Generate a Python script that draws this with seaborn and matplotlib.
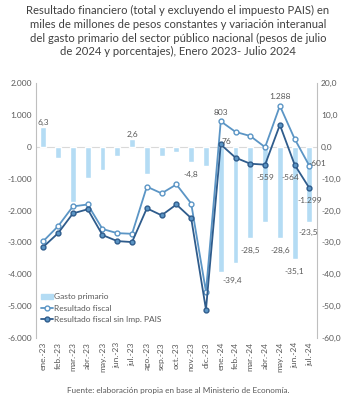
import numpy as np
import pandas as pd
import seaborn as sns
import matplotlib.pyplot as plt
from matplotlib.lines import Line2D
from matplotlib.patches import Patch
from matplotlib.ticker import FuncFormatter

# DATA
months = ["ene.-23", "feb.-23", "mar.-23", "abr.-23", "may.-23", "jun.-23", "jul.-23",
          "ago.-23", "sep.-23", "oct.-23", "nov.-23", "dic.-23", "ene.-24", "feb.-24",
          "mar.-24", "abr.-24", "may.-24", "jun.-24", "jul.-24"]
gasto_primario = [6.3, -3.4, -17.4, -9.7, -7.2, -2.8, 2.6, -8.4, -2.8, -1.6, -4.8, -6.0,
                  -39.4, -36.4, -28.5, -23.7, -28.6, -35.1, -23.5]
resultado_fiscal = [-2960, -2490, -1870, -1810, -2580, -2710, -2730, -1250, -1460, -1180,
                    -1780, -4550, 803, 470, 340, -10, 1288, 250, -601]
resultado_sin_pais = [-3140, -2710, -2090, -1960, -2770, -2960, -2990, -1930, -2150, -1810,
                      -2240, -5110, 76, -340, -530, -559, 690, -564, -1299]

# labels shown on the chart: index -> offset in points
bar_labels = {0: (0, 3), 6: (0, 3), 10: (0, -9), 12: (8, -6), 14: (0, -9), 16: (0, -9),
              17: (0, -9), 18: (-1, -8)}
rf_labels = {12: (0, 4), 16: (0, 4), 18: (6, -1)}
sp_labels = {12: (4, 2), 15: (0, -9), 17: (-3, -9), 18: (0, -9)}

BAR_C = "#b4dcf4"
LIGHT_C = "#5b95c5"
DARK_C = "#2f5c8c"
TXT_C = "#595959"

sns.set_theme(style="white")
plt.rcParams["font.family"] = ["Lato", "DejaVu Sans"]

df = pd.DataFrame({"mes": months, "idx": np.arange(len(months)), "gasto": gasto_primario,
                   "rf": resultado_fiscal, "sp": resultado_sin_pais})

fig = plt.figure(figsize=(3.56, 3.98), dpi=100)
ax = fig.add_axes([0.101, 0.151, 0.789, 0.640])

# bars on the primary axis (right scale), lines on twin (left scale) so they sit on top
sns.barplot(data=df, x="idx", y="gasto", color=BAR_C, width=0.4, ax=ax, saturation=1)
ax2 = ax.twinx()
sns.lineplot(data=df, x="idx", y="rf", color=LIGHT_C, lw=1.3, marker="o", ms=3.5,
             mfc="white", mec=LIGHT_C, mew=1, ax=ax2)
sns.lineplot(data=df, x="idx", y="sp", color=DARK_C, lw=1.3, marker="o", ms=3.5,
             mfc=LIGHT_C, mec=DARK_C, mew=1, ax=ax2)

ax.set_ylim(-60, 20)
ax2.set_ylim(-6000, 2000)
ax.set_xlim(-0.5, 18.5)
ax.yaxis.tick_right()
ax.yaxis.set_label_position("right")
ax2.yaxis.tick_left()
ax2.yaxis.set_label_position("left")
ax.set_yticks(np.arange(-60, 21, 10))
ax2.set_yticks(np.arange(-6000, 2001, 1000))
ax.yaxis.set_major_formatter(FuncFormatter(lambda v, p: f"{v:.1f}".replace(".", ",")))
ax2.yaxis.set_major_formatter(FuncFormatter(lambda v, p: f"{v:,.0f}".replace(",", ".")))
ax.set_xticks(range(len(months)))
ax.set_xticklabels(months, rotation=90)
for a in (ax, ax2):
    a.set_xlabel("")
    a.set_ylabel("")
    a.tick_params(axis="both", labelsize=6, colors=TXT_C, length=0, pad=3)
    for s in a.spines.values():
        s.set_visible(False)
ax2.spines["left"].set_visible(True)
ax2.spines["right"].set_visible(True)
ax2.spines["left"].set_color("#bfbfbf")
ax2.spines["right"].set_color("#bfbfbf")
ax2.spines["left"].set_linewidth(0.8)
ax2.spines["right"].set_linewidth(0.8)
ax.axhline(0, color="#d9d9d9", lw=0.8, zorder=0)

# data labels
for i, (dx, dy) in bar_labels.items():
    ax.annotate(f"{gasto_primario[i]:.1f}".replace(".", ","), (i, gasto_primario[i]),
                xytext=(dx, dy), textcoords="offset points", ha="center", va="center",
                fontsize=6, color=TXT_C)
for i, (dx, dy) in rf_labels.items():
    ax2.annotate(f"{resultado_fiscal[i]:,.0f}".replace(",", "."), (i, resultado_fiscal[i]),
                 xytext=(dx, dy), textcoords="offset points", ha="center", va="bottom",
                 fontsize=6, color=TXT_C)
for i, (dx, dy) in sp_labels.items():
    ax2.annotate(f"{resultado_sin_pais[i]:,.0f}".replace(",", "."), (i, resultado_sin_pais[i]),
                 xytext=(dx, dy), textcoords="offset points", ha="center", va="center",
                 fontsize=6, color=TXT_C)

handles = [Patch(color=BAR_C, label="Gasto primario"),
           Line2D([], [], color=LIGHT_C, marker="o", ms=3.5, mfc="white", mec=LIGHT_C,
                  lw=1.3, label="Resultado fiscal"),
           Line2D([], [], color=DARK_C, marker="o", ms=3.5, mfc=LIGHT_C, mec=DARK_C,
                  lw=1.3, label="Resultado fiscal sin Imp. PAIS")]
leg = ax2.legend(handles=handles, loc="lower left", bbox_to_anchor=(0.0, 0.04), frameon=False,
                 fontsize=6, handlelength=1.4, handletextpad=0.2, labelspacing=0.5,
                 borderaxespad=0.2)
for t in leg.get_texts():
    t.set_color(TXT_C)

fig.text(0.5, 0.987, "Resultado financiero (total y excluyendo el impuesto PAIS) en\n"
         "miles de millones de pesos constantes y variación interanual\n"
         "del gasto primario del sector público nacional (pesos de julio\n"
         "de 2024 y porcentajes), Enero 2023- Julio 2024",
         ha="center", va="top", fontsize=8.1, color="#404040", linespacing=1.3)
fig.text(0.5, 0.02, "Fuente: elaboración propia en base al Ministerio de Economía.",
         ha="center", va="center", fontsize=5.9, color=TXT_C)

fig.savefig("out.png", dpi=100)
